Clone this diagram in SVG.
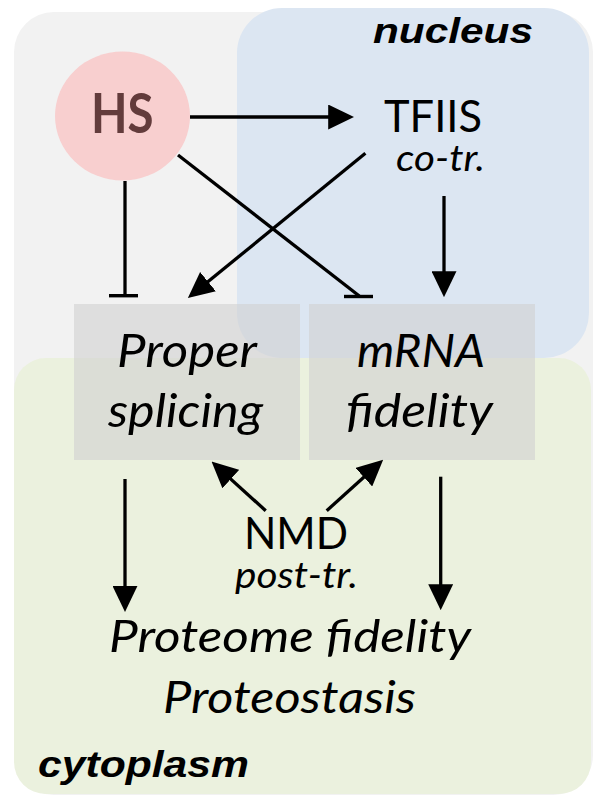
<svg xmlns="http://www.w3.org/2000/svg" width="601" height="811" viewBox="0 0 601 811">
<style>
.lbl{font-family:Lato,"Open Sans","Liberation Sans",sans-serif;fill:#000}
.it{font-style:italic}
.reg{font-family:"Liberation Sans",Arial,sans-serif;font-weight:bold;font-style:italic;fill:#000}
.ln{stroke:#000;stroke-width:3.3;fill:none}
.bar{fill:#000}
.box{fill:#d0d0d0;fill-opacity:0.6}
</style>
<defs>
<marker id="arr" markerUnits="userSpaceOnUse" markerWidth="26" markerHeight="25" refX="20" refY="12" orient="auto" viewBox="0 0 25 24">
<path d="M0,0 L25,12 L0,24 z" fill="#000"/>
</marker>
</defs>
<g id="regions">
<rect id="cell" x="14" y="12" width="579" height="783" rx="40" fill="#f2f2f2"/>
<g id="nucleus">
<rect x="237" y="8" width="352" height="350" rx="45" fill="#dce6f2"/>
<text class="reg" x="373" y="43" font-size="35" textLength="160" lengthAdjust="spacingAndGlyphs">nucleus</text>
</g>
<g id="cytoplasm">
<rect x="14" y="358" width="577" height="436" rx="32" fill="#ebf1de"/>
<text class="reg" x="38" y="777" font-size="37" textLength="211" lengthAdjust="spacingAndGlyphs">cytoplasm</text>
</g>
</g>
<g id="HS">
<ellipse cx="122.5" cy="116" rx="67.5" ry="64.5" fill="#f8cfcf"/>
<text class="lbl" x="91" y="132.7" font-size="55" font-weight="bold" fill="#633c3c" style="fill:#633c3c" textLength="62.6" lengthAdjust="spacingAndGlyphs">HS</text>
</g>
<g id="TFIIS">
<text class="lbl" x="384" y="131.7" font-size="44" textLength="98" lengthAdjust="spacingAndGlyphs">TFIIS</text>
<text class="lbl it" x="396" y="170.7" font-size="36" textLength="89" lengthAdjust="spacingAndGlyphs">co-tr.</text>
</g>
<g id="splicing">
<rect class="box" x="74" y="304" width="226" height="156"/>
<text class="lbl it" x="117" y="366.7" font-size="47" textLength="140" lengthAdjust="spacingAndGlyphs">Proper</text>
<text class="lbl it" x="108" y="426.7" font-size="47" textLength="155" lengthAdjust="spacingAndGlyphs">splicing</text>
</g>
<g id="mrna">
<rect class="box" x="309" y="304" width="226" height="156"/>
<text class="lbl it" x="357" y="366.7" font-size="47" textLength="128" lengthAdjust="spacingAndGlyphs">mRNA</text>
<text class="lbl it" x="346" y="426.7" font-size="47" textLength="147" lengthAdjust="spacingAndGlyphs">fidelity</text>
</g>
<g id="NMD">
<text class="lbl" x="244" y="549.3" font-size="45" textLength="104" lengthAdjust="spacingAndGlyphs">NMD</text>
<text class="lbl it" x="235" y="588.3" font-size="36" textLength="123" lengthAdjust="spacingAndGlyphs">post-tr.</text>
</g>
<g id="proteome">
<text class="lbl it" x="109" y="651.7" font-size="45" textLength="362" lengthAdjust="spacingAndGlyphs">Proteome fidelity</text>
<text class="lbl it" x="163" y="713" font-size="45" textLength="253" lengthAdjust="spacingAndGlyphs">Proteostasis</text>
</g>
<g id="connectors">
<line class="ln" x1="190" y1="117" x2="349" y2="117" marker-end="url(#arr)"/>
<line class="ln" x1="125" y1="181" x2="125" y2="296"/>
<rect class="bar" x="109" y="294" width="29" height="3.4"/>
<line class="ln" x1="178" y1="155" x2="359.3" y2="296"/>
<rect class="bar" x="344" y="294.8" width="29" height="3.4"/>
<line class="ln" x1="365.4" y1="153.3" x2="191.9" y2="294.8" marker-end="url(#arr)"/>
<line class="ln" x1="444" y1="196" x2="444" y2="292" marker-end="url(#arr)"/>
<line class="ln" x1="265.7" y1="510.7" x2="215.4" y2="465.1" marker-end="url(#arr)"/>
<line class="ln" x1="326.7" y1="510.7" x2="379.3" y2="463.3" marker-end="url(#arr)"/>
<line class="ln" x1="125" y1="479" x2="125" y2="606.7" marker-end="url(#arr)"/>
<line class="ln" x1="440.7" y1="476.7" x2="440.7" y2="605" marker-end="url(#arr)"/>
</g>
</svg>
